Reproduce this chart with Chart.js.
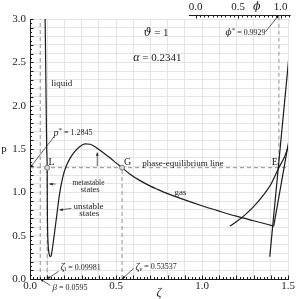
<!DOCTYPE html>
<html>
<head>
<meta charset="utf-8">
<script src="https://cdn.jsdelivr.net/npm/chart.js@4.4.0/dist/chart.umd.min.js"></script>
<style>
  html, body { margin: 0; padding: 0; background: #fff; }
  #wrap { width: 299px; height: 299px; }
</style>
</head>
<body>
<div id="wrap"><canvas id="chart" width="299" height="299"></canvas></div>
<script>
// isotherm theta = 1, alpha = 0.2341 : liquid -> unstable -> gas
const isoZeta = [0.087, 0.088, 0.091, 0.094, 0.097, 0.0998, 0.1005, 0.101, 0.102, 0.104, 0.108, 0.113, 0.118, 0.123, 0.128,
  0.135, 0.141, 0.156, 0.171, 0.19, 0.21, 0.235, 0.26, 0.29, 0.32, 0.35, 0.39, 0.43, 0.47, 0.50, 0.53537, 0.58, 0.64,
  0.70, 0.74, 0.80, 0.875, 0.95, 1.0, 1.05, 1.1, 1.2, 1.3, 1.417];
const isoP = [3.1, 3.0, 2.5, 2.0, 1.5, 1.2845, 1.0, 0.8, 0.6, 0.45, 0.33, 0.275, 0.258, 0.27, 0.32,
  0.42, 0.51, 0.74, 0.97, 1.17, 1.30, 1.40, 1.47, 1.53, 1.56, 1.555, 1.51, 1.45, 1.39, 1.34, 1.2845, 1.212, 1.135,
  1.072, 1.036, 0.985, 0.93, 0.878, 0.845, 0.813, 0.783, 0.725, 0.672, 0.611];

// branches on the right
const cuspZeta = [1.417, 1.495, 1.52];
const cuspP = [0.611, 1.488, 1.76];
const steepZeta = [1.394, 1.52];
const steepP = [0.257, 2.87];
const riseZeta = [1.162, 1.2, 1.25, 1.3, 1.35, 1.40, 1.447, 1.48, 1.51];
const riseP = [0.611, 0.66, 0.74, 0.835, 0.95, 1.09, 1.2845, 1.41, 1.58];

// special values
const pStar = 1.2845;
const beta = 0.0595;
const zetaL = 0.09981;
const zetaV = 0.53537;
const zetaE = 1.447;
const phiStar = 0.9929;

const xTickLabels = ['0.0', '0.5', '1.0', '1.5'];
const yTickLabels = ['0.0', '0.5', '1.0', '1.5', '2.0', '2.5', '3.0'];
const phiTickLabels = ['0.0', '0.5', '1.0'];

const pts = (xs, ys) => xs.map((x, i) => ({ x, y: ys[i] }));

const SERIF = '"Liberation Serif", "DejaVu Serif", serif';
const INK = '#1c1c1c';
const DASH = '#909090';

const rm = (s) => `${s}px ${SERIF}`;
const it = (s) => `italic ${s}px ${SERIF}`;
const dv = (s) => `italic ${s}px "DejaVu Serif", serif`;

// text notes, anchored in data units
const notes = [
  { segs: [['ϑ', dv(11)], [' = 1', rm(11)]], at: [0.66, 2.837] },
  { segs: [['α', it(12)], [' = 0.2341', rm(11)]], at: [0.60, 2.549] },
  { segs: [['liquid', rm(9)]], at: [0.123, 2.249], w: 21 },
  { segs: [['p', it(10)], ['*', rm(7), -3], [' = 1.2845', rm(8)]], at: [0.137, 1.684], w: 39 },
  { segs: [['L', rm(10)]], at: [0.107, 1.34] },
  { segs: [['G', rm(10)]], at: [0.547, 1.34] },
  { segs: [['E', rm(10)]], at: [1.424, 1.34], align: 'center' },
  { segs: [['phase-equilibrium line', rm(9)]], at: [0.652, 1.336], w: 83 },
  { segs: [['metastable', rm(9)]], at: [0.34, 1.115], align: 'center', w: 32 },
  { segs: [['states', rm(9)]], at: [0.35, 1.027], align: 'center', w: 19 },
  { segs: [['unstable', rm(9)]], at: [0.34, 0.836], align: 'center', w: 30 },
  { segs: [['states', rm(9)]], at: [0.345, 0.750], align: 'center', w: 20 },
  { segs: [['gas', rm(9)]], at: [0.875, 0.995], align: 'center', w: 12 },
  { segs: [['ζ', it(10)], ['l', rm(6), 2], [' = 0.09981', rm(8)]], at: [0.177, 0.133], w: 42 },
  { segs: [['β', it(9)], [' = 0.0595', rm(8)]], at: [0.131, -0.104], w: 38 },
  { segs: [['ζ', it(10)], ['v', it(6), 2], [' = 0.53537', rm(8)]], at: [0.613, 0.138], w: 43 },
  { segs: [['ϕ', dv(9)], ['*', rm(7), -3], [' = 0.9929', rm(8)]], at: [1.137, 2.837], w: 40 },
];

// leader lines and arrows [from, to]
const leaders = [
  [[0.138, 1.638], [0, pStar]],
  [[0.148, 1.096], [0.113, 1.096]],
  [[0.391, 1.303], [0.391, 1.46]],
  [[0.241, 0.815], [0.172, 0.796]],
  [[0.167, 0.089], [zetaL, 0]],
  [[0.119, -0.075], [beta, 0]],
  [[0.603, 0.123], [zetaV, 0]],
  [[1.369, 2.852], [zetaE, 3.045]],
];

function drawRich(ctx, segs, x, y, align, maxW) {
  let total = 0;
  const ws = segs.map(([t, f]) => { ctx.font = f; const w = ctx.measureText(t).width; total += w; return w; });
  const k = maxW && total > maxW ? maxW / total : 1;
  let cx = align === 'center' ? x - total * k / 2 : x;
  segs.forEach(([t, f, dy], i) => {
    ctx.font = f;
    ctx.fillText(t, cx, y + (dy || 0), ws[i] * k);
    cx += ws[i] * k;
  });
}

function arrowHead(ctx, x0, y0, x1, y1) {
  const a = Math.atan2(y1 - y0, x1 - x0);
  const L = 3.5, s = 0.4;
  ctx.beginPath();
  ctx.moveTo(x1, y1);
  ctx.lineTo(x1 - L * Math.cos(a - s), y1 - L * Math.sin(a - s));
  ctx.lineTo(x1 - L * Math.cos(a + s), y1 - L * Math.sin(a + s));
  ctx.closePath();
  ctx.fill();
}

const overlay = {
  id: 'overlay',
  afterDraw(chart) {
    const { ctx, chartArea: area, scales } = chart;
    const xs = scales.x, ys = scales.y, ph = scales.phi;
    ctx.save();
    ctx.strokeStyle = INK;
    ctx.fillStyle = INK;
    ctx.lineWidth = 1;

    // inward minor ticks on the bottom and left axes
    ctx.beginPath();
    for (let i = 0; i <= 75; i++) {
      const px = Math.round(xs.getPixelForValue(i * 0.02)) + 0.5;
      const len = i % 5 === 0 ? 3.5 : 2;
      ctx.moveTo(px, area.bottom);
      ctx.lineTo(px, area.bottom - len);
    }
    for (let i = 0; i <= 60; i++) {
      const py = Math.round(ys.getPixelForValue(i * 0.05)) + 0.5;
      const len = i % 2 === 0 ? 3.5 : 2;
      ctx.moveTo(area.left, py);
      ctx.lineTo(area.left + len, py);
    }
    ctx.stroke();

    // top phi axis
    const axY = Math.round(area.top - 4) + 0.5;
    ctx.beginPath();
    ctx.moveTo(ph.getPixelForValue(-0.08), axY);
    ctx.lineTo(ph.getPixelForValue(1.12), axY);
    for (let i = 0; i <= 22; i++) {
      const px = Math.round(ph.getPixelForValue(i * 0.05)) + 0.5;
      ctx.moveTo(px, axY);
      ctx.lineTo(px, axY + (i % 10 === 0 ? 3 : 2));
    }
    ctx.stroke();
    ctx.textBaseline = 'middle';
    ctx.textAlign = 'center';
    ctx.font = rm(11);
    phiTickLabels.forEach((t) => ctx.fillText(t, ph.getPixelForValue(parseFloat(t)), area.top - 11.5));
    ctx.font = dv(11);
    ctx.fillText('ϕ', ph.getPixelForValue(0.72), area.top - 12);

    // axis titles
    ctx.font = rm(11);
    ctx.fillText('p', 4, ys.getPixelForValue(1.5));
    ctx.font = it(12);
    ctx.fillText('ζ', (area.left + area.right) / 2, 293);

    // notes
    ctx.textAlign = 'left';
    notes.forEach((n) => {
      drawRich(ctx, n.segs, xs.getPixelForValue(n.at[0]), ys.getPixelForValue(n.at[1]), n.align || 'left', n.w);
    });

    // leaders
    ctx.lineWidth = 0.7;
    leaders.forEach(([a, b]) => {
      const x0 = xs.getPixelForValue(a[0]), y0 = ys.getPixelForValue(a[1]);
      const x1 = xs.getPixelForValue(b[0]), y1 = ys.getPixelForValue(b[1]);
      ctx.beginPath();
      ctx.moveTo(x0, y0);
      ctx.lineTo(x1, y1);
      ctx.stroke();
      arrowHead(ctx, x0, y0, x1, y1);
    });
    ctx.restore();
  },
};

const lineSet = (data, extra) => Object.assign({
  data, showLine: true, pointRadius: 0, borderColor: INK, borderWidth: 1.2, fill: false,
}, extra);
const dashSet = (data, extra) => Object.assign({
  data, showLine: true, pointRadius: 0, borderColor: DASH, borderWidth: 1, borderDash: [4, 3], fill: false,
}, extra);

const tickFont = { family: SERIF, size: 11 };
const majorOnly = (v) => {
  const h = v * 2;
  return Math.abs(h - Math.round(h)) < 1e-6 ? v.toFixed(1) : '';
};

new Chart(document.getElementById('chart'), {
  type: 'scatter',
  data: {
    datasets: [
      {
        data: [{ x: zetaL, y: pStar }, { x: zetaV, y: pStar }],
        pointRadius: 2.5, pointBackgroundColor: '#d8d8d8', pointBorderColor: '#7a7a7a', pointBorderWidth: 1,
      },
      lineSet(pts(isoZeta, isoP), { cubicInterpolationMode: 'monotone' }),
      lineSet(pts(cuspZeta, cuspP)),
      lineSet(pts(steepZeta, steepP)),
      lineSet(pts(riseZeta, riseP), { cubicInterpolationMode: 'monotone' }),
      dashSet([{ x: 0, y: pStar }, { x: 1.5, y: pStar }]),
      dashSet([{ x: beta, y: 0 }, { x: beta, y: 3 }]),
      dashSet([{ x: zetaL, y: 0 }, { x: zetaL, y: pStar }]),
      dashSet([{ x: zetaV, y: 0 }, { x: zetaV, y: pStar }]),
      dashSet([{ x: zetaE, y: pStar }, { x: zetaE, y: 3.045 }], { clip: false }),
    ],
  },
  options: {
    responsive: false,
    animation: false,
    devicePixelRatio: 1,
    layout: { padding: { top: 19, right: 11, left: 0, bottom: 0 } },
    plugins: { legend: { display: false }, tooltip: { enabled: false } },
    scales: {
      x: {
        type: 'linear', position: 'bottom', min: 0, max: 1.5,
        grid: { color: '#e4e4e4', drawTicks: false },
        border: { display: true, color: INK, width: 1 },
        ticks: { stepSize: 0.1, autoSkip: false, maxRotation: 0, padding: 1, color: INK, font: tickFont, callback: majorOnly },
        afterFit(s) { s.height = 20; },
      },
      y: {
        type: 'linear', position: 'left', min: 0, max: 3,
        grid: { color: '#e4e4e4', drawTicks: false },
        border: { display: true, color: INK, width: 1 },
        ticks: { stepSize: 0.1, autoSkip: false, padding: 4, color: INK, font: tickFont, callback: majorOnly },
        afterFit(s) { s.width = 30; },
      },
      phi: {
        type: 'linear', axis: 'x', position: 'top', display: false, min: -1.953, max: 1.088,
      },
    },
  },
  plugins: [overlay],
});
</script>
</body>
</html>
